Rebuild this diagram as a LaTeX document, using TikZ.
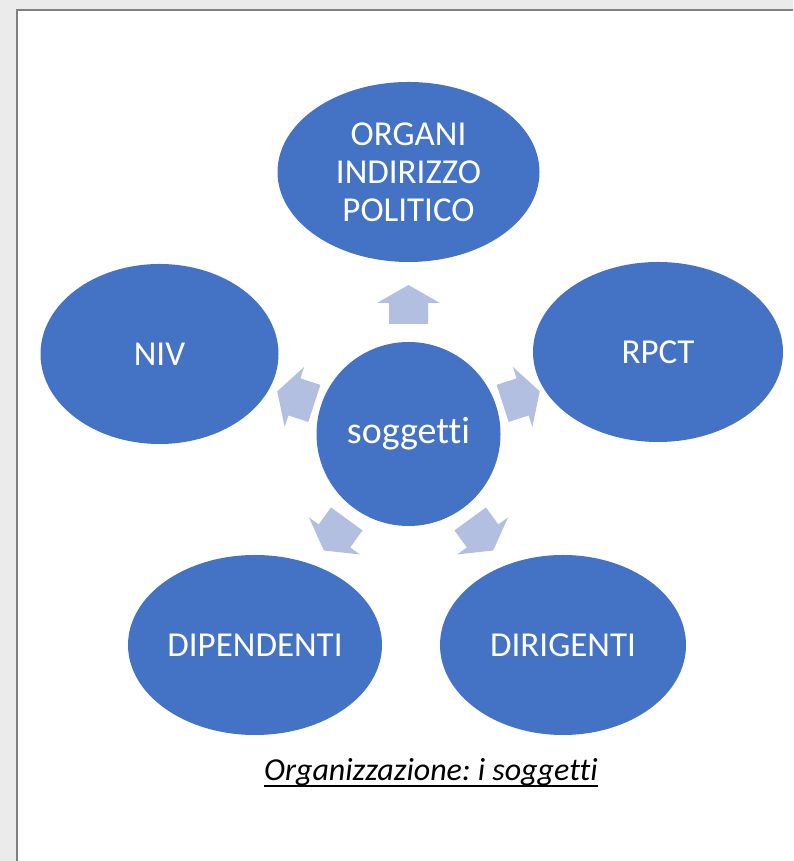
\documentclass[tikz,border=0pt]{standalone}
\usepackage{fontspec}
\setmainfont{Carlito}[Ligatures={NoCommon}]
\frenchspacing
\usetikzlibrary{shapes.geometric}
\definecolor{sablue}{HTML}{4472C4}
\definecolor{saarrow}{HTML}{B2BFE0}
\definecolor{pagegray}{HTML}{EBEBEB}
\definecolor{edgegray}{HTML}{808080}
\tikzset{
  sat/.style={ellipse, fill=sablue, minimum width=250pt, minimum height=180pt, inner sep=0pt,
    text=white, align=center, font=\fontsize{35}{38}\selectfont},
  hub/.style={circle, fill=sablue, minimum size=184pt, inner sep=0pt, text=white,
    font=\fontsize{38}{40}\selectfont},
  arr/.style={fill=saarrow},
  caption/.style={font=\fontsize{32}{36}\selectfont\itshape, text=black, inner sep=0pt},
  uline/.style={line width=1.6pt, black}
}
\newcommand{\satarrow}[2]{% angle, distance of head base
  \fill[arr, shift={(hub.center)}, rotate=#1]
    (#2-21,-19.5) -- (#2,-19.5) -- (#2,-31.5) -- (#2+18,0) -- (#2,31.5) -- (#2,19.5) -- (#2-21,19.5) -- cycle;}
\begin{document}
\begin{tikzpicture}[x=1pt,y=1pt]
\useasboundingbox (0,0) rectangle (793,861);
\fill[pagegray] (0,0) rectangle (793,861);
\fill[edgegray] (16,0) rectangle (793,852);
\fill[white] (18,0) rectangle (793,850);
\node[hub] (hub) at (408.5,427) {soggetti};
\node[sat, minimum width=262pt] (org) at (408.5,689) {ORGANI\\INDIRIZZO\\POLITICO};
\node[sat] (rpct) at (658,509) {RPCT};
\node[sat, minimum width=238pt] (niv) at (159.5,507) {NIV};
\node[sat, minimum width=254pt] (dip) at (255,216) {DIPENDENTI};
\node[sat, minimum width=246pt] (dir) at (563,216) {DIRIGENTI};
\satarrow{90}{131}
\satarrow{18}{120}
\satarrow{162}{120}
\satarrow{234}{126}
\satarrow{306}{126}
\node[caption, anchor=base] (cap) at (431,80) {Organizzazione: i soggetti};
\draw[uline] ([yshift=-5pt]cap.base west) -- ([yshift=-5pt]cap.base east);
\end{tikzpicture}
\end{document}
